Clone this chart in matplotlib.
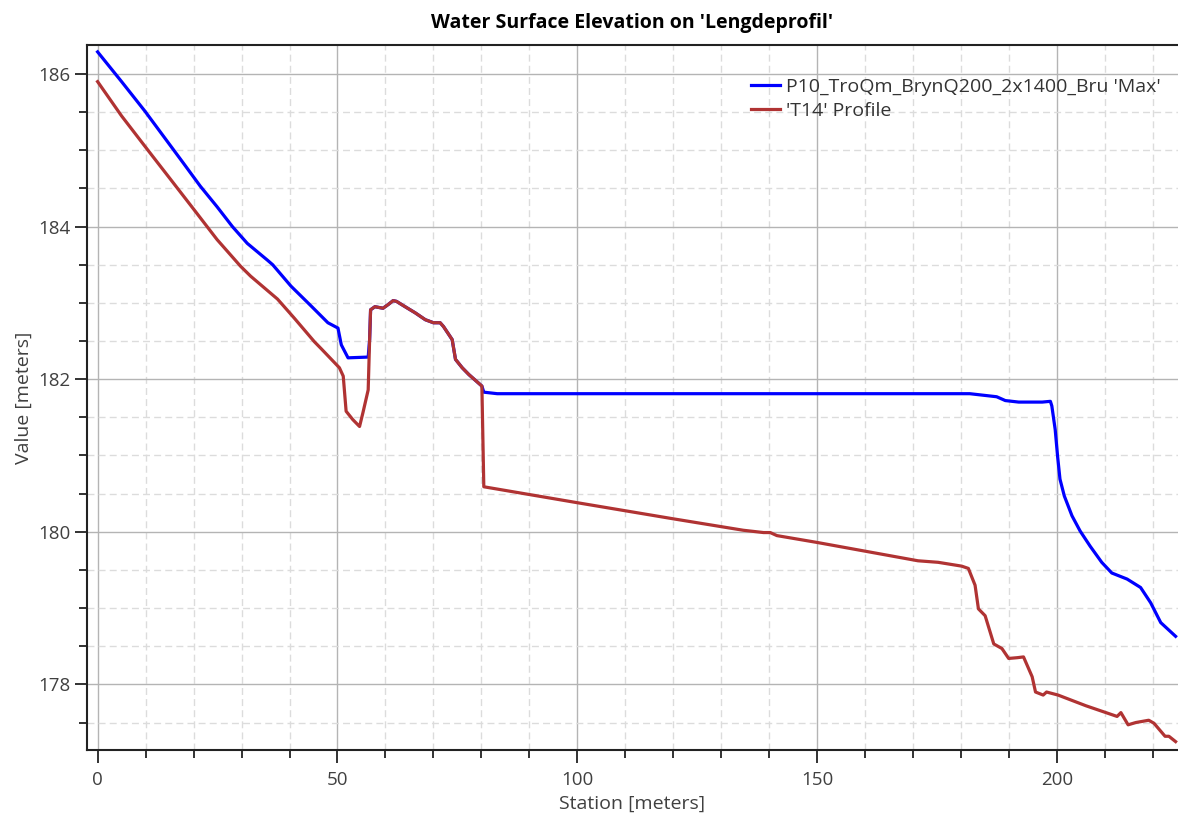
import matplotlib
matplotlib.use("Agg")
import matplotlib.pyplot as plt
from matplotlib.ticker import MultipleLocator

# Station [m] and water surface elevation [m]
max_x = [0.0, 5.0, 9.9, 15.9, 17.9, 21.4, 24.9, 28.1, 31.2, 35.4, 36.5, 40.3,
         44.5, 48.0, 50.1, 50.8, 52.2, 56.4,
         56.7, 56.9, 57.8, 59.5, 60.6, 61.6, 62.3, 64.1, 66.2, 68.3, 70.0, 71.4,
         72.1, 73.9, 74.6, 76.0, 77.4, 80.1,
         80.5, 83.3, 120.0, 160.0, 181.8, 187.4, 189.2, 192.0, 196.9, 198.6,
         198.9, 199.6, 200.1, 200.6, 201.5, 203.1, 204.8, 206.9, 209.3, 211.4,
         214.6, 217.4, 219.5, 221.6, 224.7]
max_y = [186.29, 185.90, 185.51, 185.00, 184.83, 184.53, 184.26, 184.00, 183.78,
         183.56, 183.50, 183.22, 182.96, 182.74, 182.67, 182.45, 182.28, 182.29,
         182.52, 182.91, 182.95, 182.93, 182.98, 183.03, 183.02, 182.95, 182.87,
         182.78, 182.74, 182.74, 182.69, 182.52, 182.26, 182.15, 182.06, 181.91,
         181.83, 181.81, 181.81, 181.81, 181.81, 181.77, 181.72, 181.70, 181.70,
         181.71, 181.65, 181.34, 180.99, 180.69, 180.47, 180.21, 180.01, 179.81,
         179.60, 179.46, 179.38, 179.27, 179.07, 178.81, 178.63]

t14_x = [0.0, 5.0, 11.0, 15.2, 20.0, 24.9, 29.8, 31.9, 37.5, 41.0, 45.2, 46.6,
         50.4, 51.2, 51.8, 53.2, 54.6, 55.3, 56.4, 56.7,
         56.9, 57.8, 59.5, 60.6, 61.6, 62.3, 64.1, 66.2, 68.3, 70.0, 71.4,
         72.1, 73.9, 74.6, 76.0, 77.4, 80.1,
         80.5, 100.1, 120.0, 134.6, 138.8, 140.2, 141.6, 150.0, 160.5, 171.0,
         175.2, 180.1, 181.5, 182.9, 183.6, 185.0, 186.8, 188.5, 189.9, 191.7,
         193.0, 194.8, 195.5, 197.1, 197.8, 200.2, 206.0, 212.5, 213.3, 214.8,
         216.4, 219.1, 220.2, 222.5, 223.3, 224.7]
t14_y = [185.90, 185.45, 184.96, 184.62, 184.23, 183.83, 183.48, 183.35, 183.05,
         182.80, 182.49, 182.40, 182.15, 182.04, 181.58, 181.47, 181.38, 181.56,
         181.86, 182.52,
         182.91, 182.95, 182.93, 182.98, 183.03, 183.02, 182.95, 182.87, 182.78,
         182.74, 182.74, 182.69, 182.52, 182.26, 182.15, 182.06, 181.91,
         180.59, 180.38, 180.17, 180.02, 179.99, 179.99, 179.95, 179.86, 179.74,
         179.62, 179.60, 179.55, 179.52, 179.30, 178.99, 178.90, 178.53, 178.47,
         178.34, 178.35, 178.36, 178.10, 177.90, 177.86, 177.90, 177.86, 177.72,
         177.58, 177.63, 177.47, 177.50, 177.53, 177.49, 177.32, 177.32, 177.25]

series_labels = ["P10_TroQm_BrynQ200_2x1400_Bru 'Max'", "'T14' Profile"]

plt.rcParams.update({
    'font.family': ['Open Sans', 'DejaVu Sans'],
    'font.size': 14,
    'text.color': '#333333',
    'axes.labelcolor': '#404040',
    'xtick.color': '#222222',
    'ytick.color': '#222222',
    'xtick.labelcolor': '#404040',
    'ytick.labelcolor': '#404040',
})

fig = plt.figure(figsize=(11.78, 8.23), dpi=100)
ax = fig.add_axes([0.0739, 0.0887, 0.9261, 0.8566])

ax.plot(max_x, max_y, color='#0000FF', lw=2.3, label=series_labels[0], zorder=3)
ax.plot(t14_x, t14_y, color='#B03333', lw=2.3, label=series_labels[1], zorder=4)

ax.set_xlim(-2.2, 225.2)
ax.set_ylim(177.14, 186.38)

ax.xaxis.set_major_locator(MultipleLocator(50))
ax.xaxis.set_minor_locator(MultipleLocator(10))
ax.yaxis.set_major_locator(MultipleLocator(2))
ax.yaxis.set_minor_locator(MultipleLocator(0.5))

ax.grid(which='major', color='#b4b4b4', lw=1.0, ls='-')
ax.grid(which='minor', color='#dcdcdc', lw=1.0, ls=(0, (5, 3)))
ax.set_axisbelow(True)

ax.tick_params(which='major', length=9, width=1.3, pad=6, labelsize=13.5)
ax.tick_params(which='minor', length=6, width=1.3)
ax.tick_params(axis='y', which='major', pad=3)

for side in ['left', 'top', 'bottom']:
    ax.spines[side].set_color('#222222')
    ax.spines[side].set_linewidth(1.5)
ax.spines['right'].set_visible(False)

ax.set_xlabel('Station [meters]', fontsize=14, labelpad=4)
ax.set_ylabel('Value [meters]', fontsize=14, labelpad=4)
ax.set_title("Water Surface Elevation on 'Lengdeprofil'", fontsize=14,
             fontweight='bold', color='black', pad=12)

ax.legend(loc='upper right', bbox_to_anchor=(0.995, 0.97), frameon=False,
          fontsize=14, handlelength=1.5, handletextpad=0.3, labelspacing=0.3,
          borderaxespad=0.2)

fig.savefig('out.png', dpi=100)
